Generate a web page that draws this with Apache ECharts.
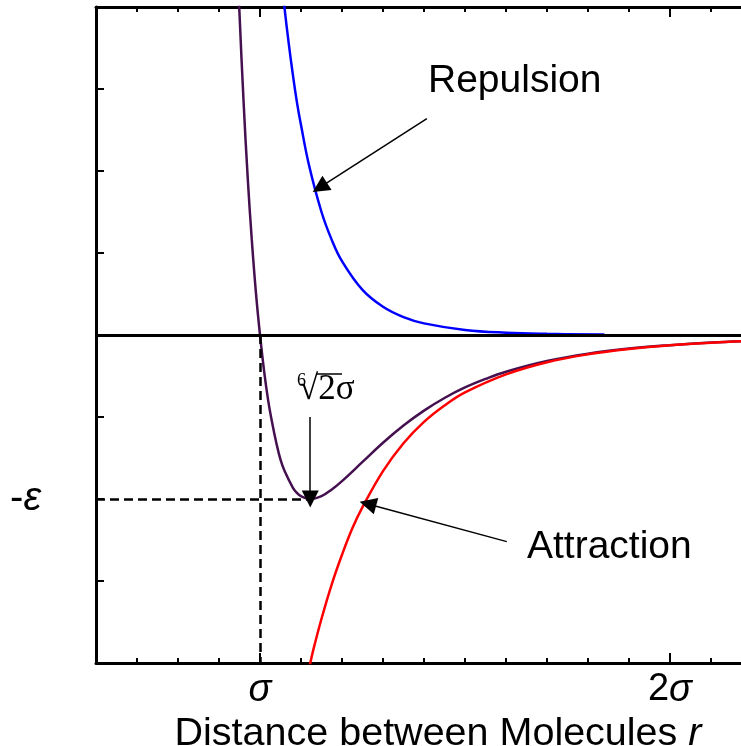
<!DOCTYPE html>
<html>
<head>
<meta charset="utf-8">
<script src="https://cdn.jsdelivr.net/npm/echarts@6/dist/echarts.min.js"></script>
<style>
  html, body { margin: 0; padding: 0; background: #fff; }
  #chart { width: 741px; height: 746px; }
</style>
</head>
<body>
<div id="chart"></div>
<script>
// r in units of sigma, potential in units of epsilon
const totalR = [0.945, 0.95, 0.96, 0.97, 0.98, 0.99, 1.0, 1.01, 1.02, 1.03, 1.04, 1.05, 1.06, 1.08, 1.09, 1.10, 1.1225,
  1.15, 1.175, 1.2, 1.25, 1.3, 1.35, 1.4, 1.45, 1.5, 1.55, 1.6, 1.7, 1.8, 1.9, 2.0, 2.1, 2.2]
const totalV = [2.27, 1.96, 1.42, 0.96, 0.58, 0.26, 0, -0.22, -0.40, -0.54, -0.66, -0.76, -0.83, -0.93, -0.963, -0.983, -1.0,
  -0.982, -0.942, -0.891, -0.774, -0.657, -0.552, -0.461, -0.384, -0.320, -0.268, -0.224, -0.159, -0.114, -0.083, -0.062, -0.046, -0.035]

const repR = [1.05, 1.06, 1.07, 1.08, 1.09, 1.10, 1.12, 1.15, 1.175, 1.2, 1.25, 1.3, 1.35, 1.4, 1.5, 1.6, 1.7, 1.84]
const repV = [2.23, 1.99, 1.78, 1.59, 1.42, 1.28, 1.03, 0.75, 0.58, 0.45, 0.275, 0.172, 0.109, 0.071, 0.031, 0.014, 0.007, 0.003]

const attR = [1.11, 1.12, 1.13, 1.15, 1.175, 1.2, 1.225, 1.25, 1.3, 1.35, 1.4, 1.45, 1.5, 1.6, 1.7, 1.8, 1.9, 2.0, 2.1, 2.2]
const attV = [-2.14, -2.03, -1.92, -1.73, -1.52, -1.34, -1.18, -1.05, -0.83, -0.66, -0.53, -0.43, -0.35, -0.24, -0.166, -0.118, -0.085, -0.062, -0.047, -0.035]

// annotation anchors (data units)
const sigma = 1
const rMin = 1.1225   // sixth root of 2
const eps = -1

const zip = (xs, ys) => xs.map((x, i) => [x, ys[i]])

const FONT = 'Liberation Sans'
const SERIF = 'Liberation Serif'
const black = '#000'

const chart = echarts.init(document.getElementById('chart'))

const isNear = (a, b) => Math.abs(a - b) < 1e-6

function xAxisOf(position, major) {
  return {
    type: 'value',
    position: position,
    min: 0.6,
    max: 2.2,
    interval: 0.1,
    axisLine: { show: !major, onZero: false, lineStyle: { color: black, width: 3 } },
    axisTick: major
      ? { show: true, inside: true, length: 10, customValues: [1, 2], lineStyle: { color: black, width: 2 } }
      : { show: true, inside: true, length: 5, lineStyle: { color: black, width: 2 } },
    axisLabel: { show: false },
    splitLine: { show: false }
  }
}

const bottomAxis = xAxisOf('bottom', false)
bottomAxis.axisLabel = {
  show: true,
  margin: 8,
  formatter: v => isNear(v, 1) ? '{g|σ}' : isNear(v, 2) ? '{n|2}{g|σ}' : '',
  rich: {
    g: { fontFamily: FONT, fontStyle: 'italic', fontSize: 38, color: black },
    n: { fontFamily: FONT, fontSize: 38, color: black }
  }
}
bottomAxis.name = 'Distance between Molecules {i|r}'
bottomAxis.nameLocation = 'middle'
bottomAxis.nameGap = 44
bottomAxis.nameTextStyle = {
  fontFamily: FONT, fontSize: 39.5, color: black, padding: [0, 0, 0, 28],
  rich: { i: { fontFamily: FONT, fontSize: 39.5, fontStyle: 'italic', color: black } }
}

const dashed = { color: black, width: 2.5, type: [9, 5] }
const solid = { color: black, width: 3, type: 'solid' }

const option = {
  animation: false,
  backgroundColor: '#fff',
  grid: { left: 96, right: -11, top: 7, bottom: 83, containLabel: false, outerBoundsMode: 'none' },
  xAxis: [bottomAxis, xAxisOf('top', false), xAxisOf('bottom', true), xAxisOf('top', true)],
  yAxis: {
    type: 'value',
    min: -2,
    max: 2,
    interval: 0.5,
    axisLine: { show: true, onZero: false, lineStyle: { color: black, width: 3 } },
    axisTick: { show: true, inside: true, length: 8, lineStyle: { color: black, width: 2 } },
    axisLabel: {
      margin: 55,
      formatter: v => isNear(v, eps) ? '{n|-}{g|ε}' : '',
      rich: {
        g: { fontFamily: FONT, fontStyle: 'italic', fontSize: 40, color: black },
        n: { fontFamily: FONT, fontSize: 40, color: black }
      }
    },
    splitLine: { show: false },
    name: 'Potential',
    nameLocation: 'middle',
    nameGap: 28,
    nameTextStyle: { fontFamily: FONT, fontSize: 39, color: black, padding: [0, 14, 0, 0] }
  },
  series: [
    {
      name: 'Repulsion',
      type: 'line',
      data: zip(repR, repV),
      smooth: 0.4,
      showSymbol: false,
      lineStyle: { color: '#0000ff', width: 2.5 },
      z: 2
    },
    {
      name: 'Total',
      type: 'line',
      data: zip(totalR, totalV),
      smooth: 0.4,
      showSymbol: false,
      lineStyle: { color: '#45104f', width: 2.5 },
      z: 3,
      markLine: {
        silent: true,
        symbol: 'none',
        label: { show: false },
        data: [
          [{ coord: [0.6, 0], lineStyle: solid }, { coord: [2.2, 0], lineStyle: solid }],
          [{ coord: [sigma, 0], lineStyle: dashed }, { coord: [sigma, -2], lineStyle: dashed }],
          [{ coord: [0.6, eps], lineStyle: dashed }, { coord: [rMin, eps], lineStyle: dashed }]
        ]
      }
    },
    {
      name: 'Attraction',
      type: 'line',
      data: zip(attR, attV),
      smooth: 0.4,
      showSymbol: false,
      lineStyle: { color: '#ff0000', width: 2.5 },
      z: 4,
      markLine: {
        silent: true,
        symbol: ['none', 'triangle'],
        symbolSize: 17,
        label: { show: false },
        lineStyle: { color: black, width: 1.5, type: 'solid' },
        data: [
          [{ coord: [1.407, 1.32] }, { coord: [1.146, 0.90] }],
          [{ coord: [1.602, -1.26] }, { coord: [1.263, -1.03] }],
          [{ coord: [rMin, -0.5] }, { coord: [rMin, -1.0] }]
        ]
      }
    }
  ],
  graphic: [
    { type: 'text', style: { x: 428, y: 81, text: 'Repulsion', fontFamily: FONT, fontSize: 39, fill: black, verticalAlign: 'middle' } },
    { type: 'text', style: { x: 527, y: 547, text: 'Attraction', fontFamily: FONT, fontSize: 39, fill: black, verticalAlign: 'middle' } },
    { type: 'text', style: { x: 297, y: 381, text: '6', fontFamily: SERIF, fontSize: 18, fill: black, verticalAlign: 'middle' } },
    { type: 'text', style: { x: 299, y: 390, text: '√2σ', fontFamily: SERIF, fontSize: 35, fill: black, verticalAlign: 'middle' } },
    { type: 'line', shape: { x1: 317, y1: 374, x2: 342, y2: 374 }, style: { stroke: black, lineWidth: 1.5 } }
  ]
}

chart.setOption(option)
</script>
</body>
</html>
